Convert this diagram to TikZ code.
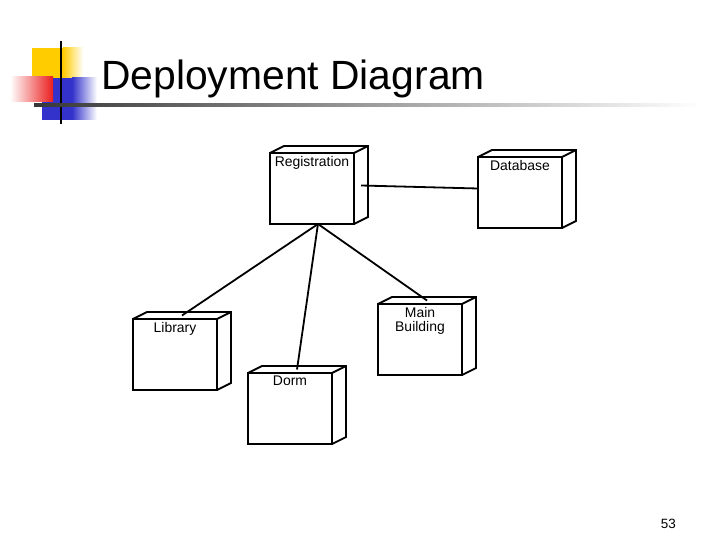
\documentclass[tikz,border=0pt]{standalone}
\usepackage{fontspec}
\setmainfont{Liberation Sans}
\definecolor{decoyellow}{RGB}{255,204,0}
\definecolor{decored}{RGB}{235,30,30}
\definecolor{decoblue}{RGB}{51,51,204}
\definecolor{rulegray}{RGB}{55,55,55}

\begin{document}
\begin{tikzpicture}[
  x=1bp, y=-1bp,
  font=\fontsize{14}{16}\selectfont,
  devnode/.style={
    draw, line width=1.8bp, anchor=north west, inner sep=0pt,
    outer sep=0pt, minimum width=84bp, minimum height=71bp
  },
  devlab/.style={anchor=north, inner sep=3bp, align=center,
    font=\fontsize{14}{14.5}\selectfont},
  face/.style={line width=1.8bp, line join=miter},
  link/.style={line width=1.8bp}
]
\useasboundingbox (0,0) rectangle (720,540);

% ---- Title bullet decoration ----
\fill[decoyellow] (32,48) rectangle (63,78);
\shade[left color=decoyellow, right color=white] (63,48) rectangle (83,78);
\fill[decoblue] (42,78) rectangle (72,120);
\shade[left color=decoblue, right color=white] (72,78) rectangle (97,120);
\shade[left color=white, right color=decored] (10,77) rectangle (53,102);
\fill[black] (60,41) rectangle (62,124);
\shade[left color=rulegray, right color=white] (34,103.5) rectangle (700,106.5);

% ---- Title and page number ----
\node[anchor=base west, inner sep=0pt, font=\fontsize{41}{48}\selectfont]
  (title) at (101,90) {Deployment Diagram};
\node[anchor=base east, inner sep=0pt, font=\fontsize{13.5}{15}\selectfont]
  (pagenum) at (676,528) {53};

% ---- Deployment nodes ----
\node[devnode, label={[devlab]north:Registration}] (reg) at (270,153) {};
\node[devnode, label={[devlab]north:Database}] (db) at (478,157) {};
\node[devnode, label={[devlab]north:Library}] (lib) at (133,319) {};
\node[devnode, label={[devlab]north:Main\\Building}] (main) at (378,304) {};
\node[devnode, label={[devlab]north:Dorm}] (dorm) at (248,373) {};

% 3D faces of the boxes
\foreach \n in {reg,db,lib,main,dorm}
  \draw[face] (\n.north west) -- ++(14,-7)
    -- ([shift={(14,-7)}]\n.north east)
    -- ([shift={(14,-7)}]\n.south east) -- (\n.south east)
    (\n.north east) -- ++(14,-7);

% ---- Connections ----
\draw[link] ([shift={(7,-3)}]reg.east) -- ([shift={(0,-4)}]db.west);
\draw[link] ([xshift=6]reg.south) -- ([shift={(7,-3.5)}]lib.north);
\draw[link] ([xshift=6]reg.south) -- ([shift={(7,-3.5)}]dorm.north);
\draw[link] ([xshift=6]reg.south) -- ([shift={(7,-3.5)}]main.north);

\end{tikzpicture}
\end{document}
